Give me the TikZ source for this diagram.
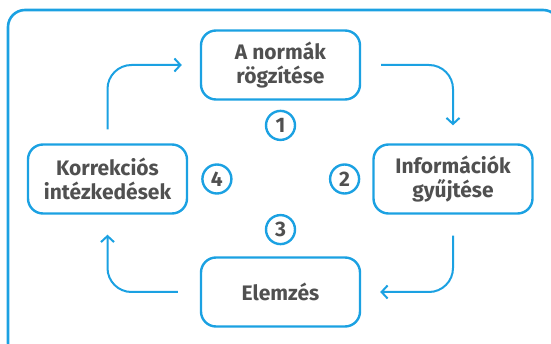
\documentclass[tikz,border=0pt]{standalone}
\usepackage{fontspec}
\setmainfont{Fira Sans}
\usetikzlibrary{calc, positioning, arrows.meta}
\definecolor{ciklkek}{HTML}{1BA1E2}
\definecolor{ciklszurke}{HTML}{505050}

\begin{document}
\begin{tikzpicture}[x=1pt, y=-1pt,
  lepes/.style={draw=ciklkek, line width=2.4pt, rounded corners=15pt, minimum width=159pt, minimum height=69pt, align=center, text=ciklszurke, font=\fontsize{21}{24}\selectfont\bfseries},
  szam/.style={draw=ciklkek, line width=2.4pt, circle, minimum size=29pt, inner sep=0pt, text=ciklszurke, font=\fontsize{21}{22}\selectfont\bfseries},
  nyil/.style={draw=ciklkek, line width=2pt, rounded corners=24pt, -{Straight Barb[length=6pt, width=13pt, line width=2pt]}}]
  \useasboundingbox (0,0) rectangle (551,344);
  \draw[ciklkek, line width=2.6pt, rounded corners=17pt] (8,10) rectangle (560,360);

  \node[lepes] (norma) at (280.5,65) {A normák\\rögzítése};
  \node[lepes] (info) at (453,179) {Információk\\gyűjtése};
  \node[lepes] (elem) at (280.5,292) {Elemzés};
  \node[lepes] (korr) at (107.5,179) {Korrekciós\\intézkedések};

  \node[szam, below=9pt of norma] (sz1) {1};
  \node[szam, left=12pt of info] (sz2) {2};
  \node[szam, above=11pt of elem] (sz3) {3};
  \node[szam, right=13pt of korr] (sz4) {4};

  \draw[nyil, shorten <=14pt, shorten >=18pt] (korr.north) |- (norma.west);
  \draw[nyil, shorten <=20pt, shorten >=18pt] (norma.east) -| (info.north);
  \draw[nyil, shorten <=21pt, shorten >=19pt] (info.south) |- (elem.east);
  \draw[nyil, shorten <=22pt, shorten >=20pt] (elem.west) -| (korr.south);
\end{tikzpicture}
\end{document}
